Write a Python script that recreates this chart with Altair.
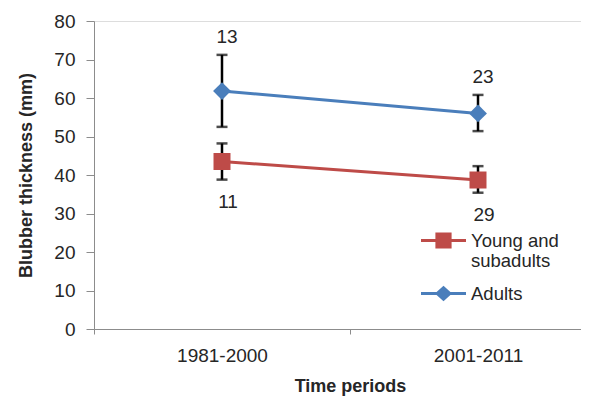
import altair as alt
import pandas as pd

periods = ["1981-2000", "2001-2011"]
series_names = ["Young and subadults", "Adults"]
series_colors = ["#BE4B48", "#4A7EBB"]

young_mean = [43.5, 38.7]
young_low = [38.8, 35.4]
young_high = [48.2, 42.3]
young_n = [11, 29]

adult_mean = [61.8, 56.0]
adult_low = [52.5, 51.4]
adult_high = [71.2, 60.8]
adult_n = [13, 23]

y_ticks = [0, 10, 20, 30, 40, 50, 60, 70, 80]

rows = []
for i, p in enumerate(periods):
    rows.append(dict(period=p, series=series_names[0], mean=young_mean[i],
                     low=young_low[i], high=young_high[i], n=young_n[i]))
    rows.append(dict(period=p, series=series_names[1], mean=adult_mean[i],
                     low=adult_low[i], high=adult_high[i], n=adult_n[i]))
df = pd.DataFrame(rows)

FONT = "Liberation Sans"
AXIS_COLOR = "#8C8C8C"
TEXT_COLOR = "#262626"

# symbol paths: a line with a marker (for the legend only)
young_sym = "M-1,-0.07H1V0.07H-1Z M-0.36,-0.36H0.36V0.36H-0.36Z"
adult_sym = "M-1,-0.07H1V0.07H-1Z M-0.38,0L0,-0.34L0.38,0L0,0.34Z"

x_enc = alt.X(
    "period:N",
    scale=alt.Scale(type="band", domain=periods, paddingInner=0, paddingOuter=0),
    axis=alt.Axis(
        title="Time periods", labelAngle=0, tickBand="extent", tickSize=5,
        labelPadding=12, titlePadding=12, labelFontSize=19, titleFontSize=18,
        labelFont=FONT, titleFont=FONT, titleFontWeight="bold",
        labelColor=TEXT_COLOR, titleColor=TEXT_COLOR,
        domainColor=AXIS_COLOR, tickColor=AXIS_COLOR, grid=False,
    ),
)
y_scale = alt.Scale(domain=[0, 80], nice=False)
y_axis = alt.Axis(
    title="Blubber thickness (mm)", values=y_ticks, tickSize=8,
    labelPadding=11, titlePadding=18, labelFontSize=19, titleFontSize=18,
    labelOverlap=False,
    labelFont=FONT, titleFont=FONT, titleFontWeight="bold",
    labelColor=TEXT_COLOR, titleColor=TEXT_COLOR,
    domainColor=AXIS_COLOR, tickColor=AXIS_COLOR, grid=False,
)
y_enc = alt.Y("mean:Q", scale=y_scale, axis=y_axis)
y_low = alt.Y("low:Q", scale=y_scale, axis=y_axis)
y_high = alt.Y("high:Q", scale=y_scale, axis=y_axis)

color_enc = alt.Color(
    "series:N",
    scale=alt.Scale(domain=series_names, range=series_colors),
    legend=alt.Legend(
        title=None, orient="none", legendX=327, legendY=197,
        symbolSize=2025, symbolStrokeWidth=0, symbolOpacity=1,
        labelFontSize=18.5, labelFont=FONT, labelColor=TEXT_COLOR,
        labelOffset=5, rowPadding=-8, padding=0,
        labelExpr="datum.label == 'Young and subadults' ? ['Young and', 'subadults'] : datum.label",
    ),
)

base = alt.Chart(df)

lines = base.mark_line(strokeWidth=3).encode(x=x_enc, y=y_enc, color=color_enc)

err_rule = base.mark_rule(color="black", strokeWidth=2.5).encode(
    x=x_enc, y=y_low, y2="high:Q"
)
cap_low = base.mark_tick(color="black", size=11, thickness=2.5).encode(
    x=x_enc, y=y_low
)
cap_high = base.mark_tick(color="black", size=11, thickness=2.5).encode(
    x=x_enc, y=y_high
)

pts_young = base.transform_filter(alt.datum.series == series_names[0]).mark_point(
    shape="square", filled=True, size=289, opacity=1
).encode(x=x_enc, y=y_enc, color=color_enc)
pts_adult = base.transform_filter(alt.datum.series == series_names[1]).mark_point(
    shape="diamond", filled=True, size=320, opacity=1
).encode(x=x_enc, y=y_enc, color=color_enc)

# legend-only layer: no rows pass the filter, it just supplies the legend symbols
legend_layer = base.transform_filter(alt.datum.mean < 0).mark_point(
    filled=True, opacity=1, strokeWidth=0
).encode(
    x=x_enc, y=y_enc, color=color_enc,
    shape=alt.Shape("series:N", scale=alt.Scale(domain=series_names, range=[young_sym, adult_sym])),
)

txt_adult = base.transform_filter(alt.datum.series == series_names[1]).mark_text(
    fontSize=19, font=FONT, color=TEXT_COLOR, baseline="middle", dy=-18, dx=5
).encode(x=x_enc, y=y_high, text="n:Q")
txt_young = base.transform_filter(alt.datum.series == series_names[0]).mark_text(
    fontSize=19, font=FONT, color=TEXT_COLOR, baseline="middle", dy=22, dx=6
).encode(x=x_enc, y=y_low, text="n:Q")

chart = alt.layer(
    lines, err_rule, cap_low, cap_high, pts_young, pts_adult, legend_layer,
    txt_adult, txt_young,
).properties(
    width=512, height=308,
    padding={"left": 9, "top": 4, "right": -26, "bottom": 5},
).configure_view(stroke=None).configure(background="white")

chart.save("out.html", embed_options={"renderer": "svg", "actions": False})
